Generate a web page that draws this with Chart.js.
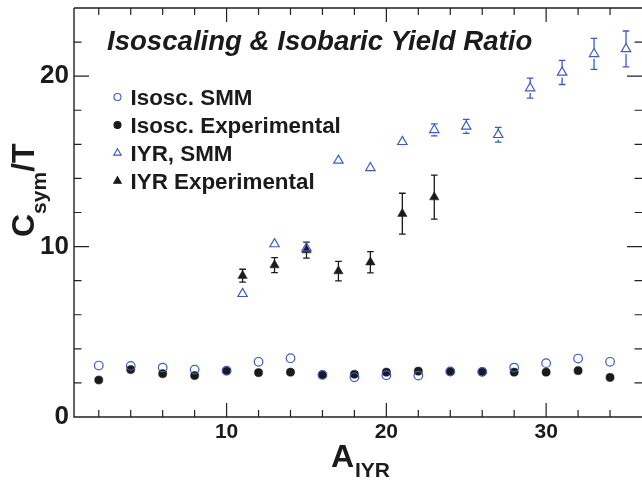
<!DOCTYPE html>
<html><head><meta charset="utf-8">
<script src="https://cdn.jsdelivr.net/npm/chart.js@4.4.0/dist/chart.umd.min.js"></script>
<style>html,body{margin:0;padding:0;background:#fff}canvas{display:block}</style>
</head><body>
<canvas id="c" width="642" height="480"></canvas>
<script>
// ---- data ----
const isoA = [2,4,6,8,10,12,14,16,18,20,22,24,26,28,30,32,34];
const isoSMM = [3.02,3.00,2.90,2.78,2.72,3.24,3.45,2.47,2.33,2.45,2.43,2.67,2.65,2.90,3.16,3.43,3.24];
const isoExp = [2.17,2.78,2.54,2.43,2.70,2.60,2.63,2.47,2.51,2.63,2.69,2.67,2.65,2.63,2.63,2.72,2.32];
const iyrSmmA = [11,13,15,17,19,21,23,25,27,29,31,33,35];
const iyrSmm = [7.23,10.15,9.91,15.05,14.62,16.15,16.85,17.05,16.56,19.3,20.22,21.31,21.6];
const iyrSmmErr = [0.05,0.08,0.15,0.25,0.25,0.3,0.35,0.41,0.43,0.59,0.71,0.91,1.05];
const iyrExpA = [11,13,15,17,19,21,23];
const iyrExp = [8.29,8.91,9.79,8.56,9.08,11.93,12.9];
const iyrExpErr = [0.38,0.44,0.47,0.57,0.62,1.2,1.29];
const xLabelTicks = [10,20,30];
const xMinorTicks = [2,4,6,8,12,14,16,18,22,24,26,28,32,34];
const yLabelTicks = [0,10,20];
const yMinorTicks = [2,4,6,8,12,14,16,18,22];
const seriesNames = ['Isosc. SMM','Isosc. Experimental','IYR, SMM','IYR Experimental'];
const chartTitle = 'Isoscaling & Isobaric Yield Ratio';

const BLUE = '#3a5cc5', BLACK = '#1b1b1b', AXIS = '#222';
const FONT = '"Liberation Sans", Arial, Helvetica, sans-serif';

const pts = (xs, ys) => xs.map((x, i) => ({x, y: ys[i]}));
const noPad = s => { s.paddingTop = 0; s.paddingBottom = 0; s.paddingLeft = 0; s.paddingRight = 0; };

const decor = {
  id: 'decor',
  beforeDatasetsDraw(chart) {
    const {ctx, scales: {x, y}} = chart;
    chart.data.datasets.forEach(ds => {
      if (!ds.errors) return;
      ctx.save();
      ctx.strokeStyle = ds.borderColor;
      ctx.lineWidth = 1.3;
      ds.data.forEach((p, i) => {
        const e = ds.errors[i];
        const px = x.getPixelForValue(p.x);
        const yt = y.getPixelForValue(p.y + e), yb = y.getPixelForValue(p.y - e), yc = y.getPixelForValue(p.y);
        const gap = ds.gapErr ? 5 : 0;
        ctx.beginPath();
        if (yc - gap > yt) { ctx.moveTo(px, yt); ctx.lineTo(px, yc - gap); }
        if (yc + gap < yb) { ctx.moveTo(px, yc + gap); ctx.lineTo(px, yb); }
        if (yb - yt > 2 * gap + 1) {
          ctx.moveTo(px - 3.3, yt); ctx.lineTo(px + 3.3, yt);
          ctx.moveTo(px - 3.3, yb); ctx.lineTo(px + 3.3, yb);
        }
        ctx.stroke();
      });
      ctx.restore();
    });
  },
  afterDraw(chart) {
    const {ctx, chartArea: a, scales: {x, y}} = chart;
    ctx.save();
    // frame
    ctx.strokeStyle = AXIS; ctx.lineWidth = 1.4;
    ctx.beginPath();
    ctx.moveTo(a.left, a.top); ctx.lineTo(a.left, a.bottom); ctx.lineTo(a.right + 2, a.bottom);
    ctx.moveTo(a.left, a.top); ctx.lineTo(a.right + 2, a.top);
    ctx.stroke();
    // ticks
    ctx.lineWidth = 1.2;
    ctx.beginPath();
    const tx = (v, len) => {
      const px = x.getPixelForValue(v);
      ctx.moveTo(px, a.bottom); ctx.lineTo(px, a.bottom - len);
      ctx.moveTo(px, a.top); ctx.lineTo(px, a.top + len);
    };
    const ty = (v, len) => {
      const py = y.getPixelForValue(v);
      ctx.moveTo(a.left, py); ctx.lineTo(a.left + len, py);
      ctx.moveTo(a.right, py); ctx.lineTo(a.right - len, py);
    };
    xMinorTicks.forEach(v => tx(v, 7));
    xLabelTicks.forEach(v => tx(v, 14));
    yMinorTicks.forEach(v => ty(v, 7.5));
    yLabelTicks.filter(v => v > 0).forEach(v => ty(v, 15));
    ctx.stroke();

    // title inside plot
    ctx.fillStyle = BLACK;
    ctx.textBaseline = 'alphabetic';
    ctx.textAlign = 'left';
    ctx.font = 'italic bold 27.6px ' + FONT;
    ctx.fillText(chartTitle, 107, 50);

    // legend
    const lx = 117.5, tx0 = 130.5, base = [104.5, 132.5, 160.5, 188.5];
    ctx.font = 'bold 22.4px ' + FONT;
    chart.data.datasets.forEach((ds, i) => {
      const my = base[i] - 7.5;
      ctx.save();
      ctx.lineWidth = 1.1;
      ctx.strokeStyle = ds.borderColor; ctx.fillStyle = ds.backgroundColor;
      ctx.beginPath();
      if (ds.pointStyle === 'circle') {
        ctx.arc(lx, my, 3.5, 0, Math.PI * 2);
      } else {
        const r = 4.3;
        ctx.moveTo(lx, my - r);
        ctx.lineTo(lx + r * 0.866, my + r * 0.5);
        ctx.lineTo(lx - r * 0.866, my + r * 0.5);
        ctx.closePath();
      }
      if (ds.backgroundColor !== 'rgba(0,0,0,0)') ctx.fill();
      ctx.stroke();
      ctx.restore();
      ctx.fillStyle = BLACK;
      ctx.fillText(ds.label, tx0, base[i]);
    });

    // axis titles
    ctx.fillStyle = BLACK;
    ctx.font = 'bold 32px ' + FONT;
    ctx.fillText('A', 331, 467);
    ctx.font = 'bold 21px ' + FONT;
    ctx.fillText('IYR', 355, 477);

    ctx.save();
    ctx.translate(33.5, 237);
    ctx.rotate(-Math.PI / 2);
    let cx = 0;
    ctx.font = 'bold 32px ' + FONT;
    ctx.fillText('C', cx, 0); cx += ctx.measureText('C').width;
    ctx.font = 'bold 21px ' + FONT;
    ctx.fillText('sym', cx, 12); cx += ctx.measureText('sym').width;
    ctx.font = 'bold 32px ' + FONT;
    ctx.fillText('/T', cx, 0);
    ctx.restore();

    ctx.restore();
  }
};

new Chart(document.getElementById('c'), {
  type: 'scatter',
  data: {
    datasets: [
      {label: seriesNames[0], data: pts(isoA, isoSMM), pointStyle: 'circle', pointRadius: 4.3,
       borderColor: BLUE, backgroundColor: 'rgba(0,0,0,0)', pointBorderWidth: 1.2, order: 0},
      {label: seriesNames[1], data: pts(isoA, isoExp), pointStyle: 'circle', pointRadius: 4.1,
       borderColor: BLACK, backgroundColor: BLACK, pointBorderWidth: 0.5, order: 1},
      {label: seriesNames[2], data: pts(iyrSmmA, iyrSmm), errors: iyrSmmErr, gapErr: true, pointStyle: 'triangle', pointRadius: 5.4,
       borderColor: BLUE, backgroundColor: 'rgba(0,0,0,0)', pointBorderWidth: 1.2, order: 2},
      {label: seriesNames[3], data: pts(iyrExpA, iyrExp), errors: iyrExpErr, pointStyle: 'triangle', pointRadius: 5.4,
       borderColor: BLACK, backgroundColor: BLACK, pointBorderWidth: 0.5, order: 3}
    ]
  },
  options: {
    responsive: false,
    animation: false,
    events: [],
    layout: {autoPadding: false, padding: {top: 8, left: 0, right: 0, bottom: 0}},
    plugins: {legend: {display: false}, tooltip: {enabled: false}, title: {display: false}},
    scales: {
      x: {
        type: 'linear', min: 0.45, max: 36,
        grid: {display: false, drawTicks: false}, border: {display: false},
        afterBuildTicks: s => { s.ticks = xLabelTicks.map(v => ({value: v})); },
        afterFit: s => { s.height = 63; noPad(s); },
        ticks: {font: {family: FONT, size: 21, weight: 'bold'}, color: BLACK, padding: 3, maxRotation: 0, autoSkip: false}
      },
      y: {
        type: 'linear', min: 0, max: 24,
        grid: {display: false, drawTicks: false}, border: {display: false},
        afterBuildTicks: s => { s.ticks = yLabelTicks.map(v => ({value: v})); },
        afterFit: s => { s.width = 74; noPad(s); },
        ticks: {font: {family: FONT, size: 26, weight: 'bold'}, color: BLACK, padding: 5, autoSkip: false}
      }
    }
  },
  plugins: [decor]
});
</script>
</body></html>
